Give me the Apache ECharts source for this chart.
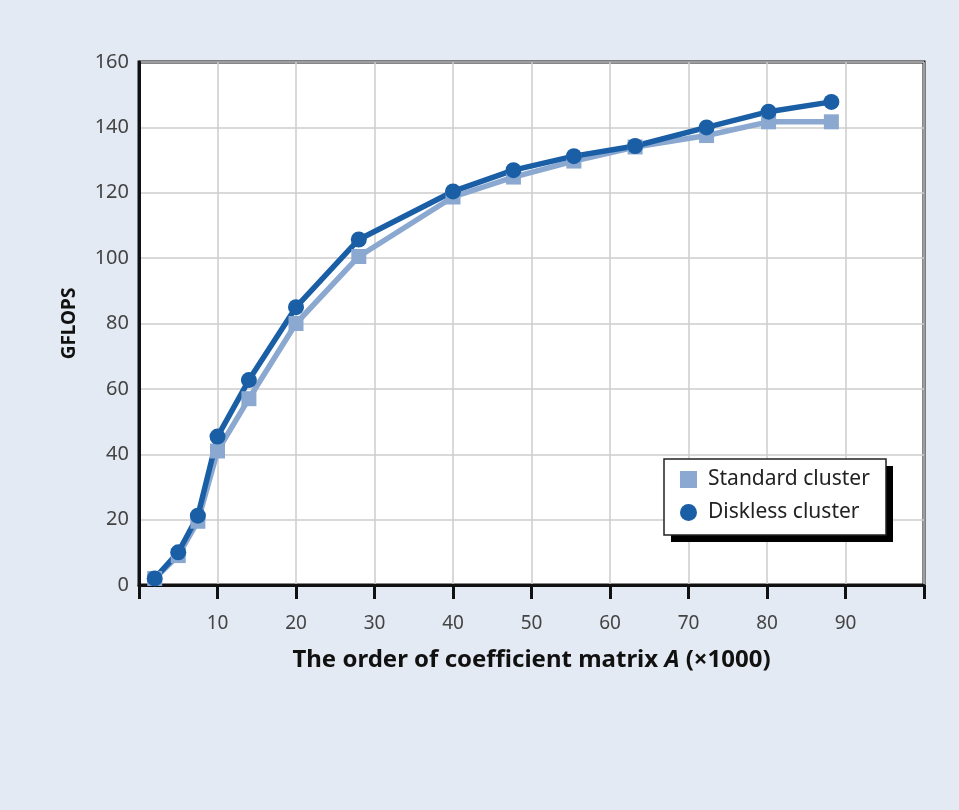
<!DOCTYPE html>
<html>
<head>
<meta charset="utf-8">
<script src="https://cdn.jsdelivr.net/npm/echarts@6/dist/echarts.min.js"></script>
<style>
html,body{margin:0;padding:0;background:#e4eaf3;}
#main{width:959px;height:810px;}
</style>
</head>
<body>
<div id="main"></div>
<script>
var matrixOrder = [2, 5, 7.5, 10, 14, 20, 28, 40, 47.7, 55.4, 63.2, 72.3, 80.2, 88.2];
var standardCluster = [2, 9, 19.5, 41, 57, 80, 100.5, 118.7, 124.8, 129.7, 134, 137.5, 141.7, 141.7];
var disklessCluster = [2, 10, 21.2, 45.4, 62.7, 85, 105.7, 120.4, 126.9, 131.2, 134.3, 140, 144.8, 147.8];
var seriesNames = ['Standard cluster', 'Diskless cluster'];

function pairs(xs, ys){ return xs.map(function(x,i){ return [x, ys[i]]; }); }

var chart = echarts.init(document.getElementById('main'));
var font = 'Noto Sans';
chart.setOption({
  backgroundColor: '#e4eaf3',
  animation: false,
  grid: {left: 139, right: 35, top: 62, bottom: 225, show: true, backgroundColor: '#ffffff', borderColor: '#111', borderWidth: 3},
  graphic: [
    {type: 'rect', z: 3, shape: {x: 671, y: 466, width: 222, height: 76}, style: {fill: '#000'}},
    {type: 'rect', z: 3, shape: {x: 664, y: 459, width: 222, height: 76}, style: {fill: '#fff', stroke: '#222', lineWidth: 1.5}}
  ],
  legend: {
    data: [
      {name: seriesNames[0], icon: 'rect'},
      {name: seriesNames[1], icon: 'circle'}
    ],
    orient: 'vertical',
    left: 680, top: 469,
    itemWidth: 17, itemHeight: 17, itemGap: 12,
    padding: 0,
    z: 5,
    textStyle: {fontFamily: font, fontSize: 21, color: '#222', padding: [0, 0, 0, 6]}
  },
  xAxis: {
    type: 'value', min: 0, max: 100, interval: 10,
    name: 'The order of coefficient matrix {i|A} (×1000)',
    nameLocation: 'middle', nameGap: 63,
    nameTextStyle: {fontFamily: font, fontSize: 24, fontWeight: 'bold', color: '#111',
      rich: {i: {fontFamily: font, fontSize: 24, fontWeight: 'bold', fontStyle: 'italic', color: '#111'}}},
    axisLine: {lineStyle: {color: '#111', width: 3}},
    axisTick: {show: true, length: 14, lineStyle: {color: '#111', width: 3}},
    axisLabel: {fontFamily: font, fontSize: 19, color: '#444', margin: 29,
      formatter: function(v){ return (v === 0 || v === 100) ? '' : String(v); }},
    splitLine: {show: true, lineStyle: {color: '#cccccc', width: 1.5}}
  },
  yAxis: {
    type: 'value', min: 0, max: 160, interval: 20,
    name: 'GFLOPS', nameLocation: 'middle', nameGap: 60,
    nameTextStyle: {fontFamily: font, fontSize: 19, fontWeight: 'bold', color: '#111'},
    axisLine: {show: true, lineStyle: {color: '#111', width: 3}},
    axisTick: {show: false},
    axisLabel: {fontFamily: font, fontSize: 20, color: '#444', margin: 10},
    splitLine: {show: true, lineStyle: {color: '#cccccc', width: 1.5}}
  },
  series: [
    {
      name: seriesNames[0], type: 'line', data: pairs(matrixOrder, standardCluster),
      symbol: 'rect', symbolSize: 15,
      lineStyle: {color: '#8aa8d0', width: 5.5},
      itemStyle: {color: '#8aa8d0'}
    },
    {
      name: seriesNames[1], type: 'line', data: pairs(matrixOrder, disklessCluster),
      symbol: 'circle', symbolSize: 16,
      lineStyle: {color: '#1a5ea5', width: 5.5},
      itemStyle: {color: '#1a5ea5'}
    }
  ]
});
</script>
</body>
</html>
